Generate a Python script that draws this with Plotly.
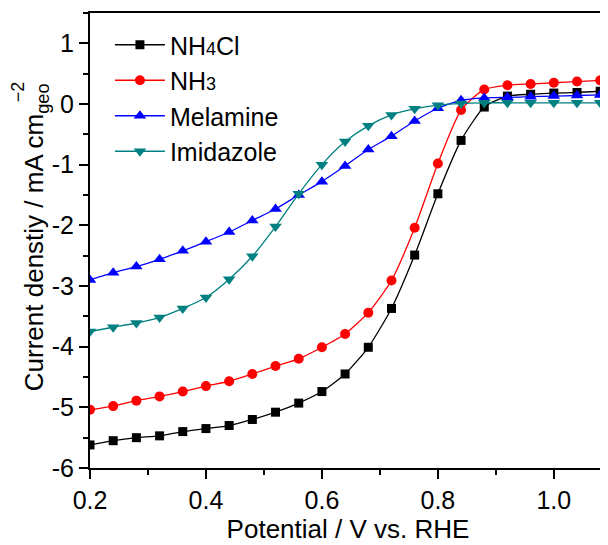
import plotly.graph_objects as go

# ---- data ----
potential = [0.20, 0.24, 0.28, 0.32, 0.36, 0.40, 0.44, 0.48, 0.52, 0.56, 0.60, 0.64,
             0.68, 0.72, 0.76, 0.80, 0.84, 0.88, 0.92, 0.96, 1.00, 1.04, 1.08]

nh4cl = [-5.62, -5.55, -5.50, -5.47, -5.40, -5.35, -5.30, -5.20, -5.08, -4.93, -4.74, -4.45,
         -4.01, -3.37, -2.49, -1.48, -0.60, -0.05, 0.13, 0.16, 0.18, 0.19, 0.21]

nh3 = [-5.04, -4.98, -4.89, -4.82, -4.74, -4.65, -4.57, -4.45, -4.32, -4.20, -4.01, -3.79,
       -3.44, -2.91, -2.04, -0.98, -0.10, 0.24, 0.31, 0.33, 0.35, 0.37, 0.39]

melamine = [-2.90, -2.78, -2.68, -2.56, -2.42, -2.27, -2.11, -1.92, -1.73, -1.50, -1.28, -1.02,
            -0.75, -0.53, -0.28, -0.07, 0.06, 0.10, 0.11, 0.12, 0.13, 0.14, 0.15]

imidazole = [-3.75, -3.68, -3.61, -3.52, -3.37, -3.19, -2.89, -2.51, -2.02, -1.48, -1.00, -0.62,
             -0.36, -0.18, -0.08, -0.02, 0.01, 0.02, 0.02, 0.02, 0.02, 0.02, 0.02]

series_names = ["NH<span style='font-size:18px'>4</span>Cl",
                "NH<span style='font-size:18px'>3</span>",
                "Melamine", "Imidazole"]
series_values = [nh4cl, nh3, melamine, imidazole]
series_colors = ["#000000", "#FF0000", "#0000FF", "#008080"]
series_symbols = ["square", "circle", "triangle-up", "triangle-down"]
series_sizes = [9, 10, 11, 11]

x_ticks = [0.2, 0.4, 0.6, 0.8, 1.0]
x_ticklabels = ["0.2", "0.4", "0.6", "0.8", "1.0"]
y_ticks = [1, 0, -1, -2, -3, -4, -5, -6]
y_ticklabels = ["1", "0", "-1", "-2", "-3", "-4", "-5", "-6"]

FONT = "Liberation Sans, Arial, sans-serif"

fig = go.Figure()
for name, vals, col, sym, sz in zip(series_names, series_values, series_colors,
                                    series_symbols, series_sizes):
    fig.add_trace(go.Scatter(
        x=potential, y=vals, name=name, mode="lines+markers",
        line=dict(color=col, width=1.3, shape="spline", smoothing=0.6),
        marker=dict(symbol=sym, size=sz, color=col, line=dict(width=0)),
    ))

# page body has an 8px margin: figure is placed at (8, 8) in the window
OFF = 8
W, H = 600, 537
ml, mr, mt, mb = 90 - OFF, 0, 13 - OFF, 77
pw = W - ml - mr
ph = H - mt - mb


def px_x(win_px):
    return (win_px - OFF - ml) / pw


def px_y(win_py):
    return (H - mb - (win_py - OFF)) / ph


fig.update_layout(
    width=W, height=H,
    margin=dict(l=ml, r=mr, t=mt, b=mb),
    paper_bgcolor="white", plot_bgcolor="white",
    font=dict(family=FONT, size=24, color="black"),
    showlegend=True,
    legend=dict(
        x=px_x(110), y=px_y(22), xanchor="left", yanchor="top",
        bgcolor="rgba(0,0,0,0)", borderwidth=0,
        font=dict(family=FONT, size=25, color="black"),
        itemwidth=50, tracegroupgap=0,
    ),
    xaxis=dict(
        range=[0.2, 1.09], showgrid=False, zeroline=False,
        showline=True, linecolor="black", linewidth=2, mirror=True,
        tickmode="array", tickvals=x_ticks, ticktext=x_ticklabels,
        ticks="outside", ticklen=9, tickwidth=1.5, tickcolor="black",
        minor=dict(dtick=0.1, tick0=0.2, ticks="outside", ticklen=5, tickwidth=1.5,
                   tickcolor="black", showgrid=False),
        tickfont=dict(family=FONT, size=25),
        title=dict(text="Potential / V vs. RHE", font=dict(family=FONT, size=26), standoff=4),
    ),
    yaxis=dict(
        range=[-6, 1.5], showgrid=False, zeroline=False,
        showline=True, linecolor="black", linewidth=2, mirror=True,
        tickmode="array", tickvals=y_ticks, ticktext=y_ticklabels,
        ticks="outside", ticklen=9, tickwidth=1.5, tickcolor="black",
        minor=dict(dtick=0.5, tick0=0, ticks="outside", ticklen=5, tickwidth=1.5,
                   tickcolor="black", showgrid=False),
        tickfont=dict(family=FONT, size=25),
    ),
    annotations=[
        dict(text="Current denstiy / mA cm<sub>geo</sub>", textangle=-90,
             xref="paper", yref="paper", x=px_x(35), y=px_y(393),
             xanchor="center", yanchor="bottom", showarrow=False,
             font=dict(family=FONT, size=26, color="black")),
        dict(text="\u22122", textangle=-90,
             xref="paper", yref="paper", x=px_x(18), y=px_y(92),
             xanchor="center", yanchor="middle", showarrow=False,
             font=dict(family=FONT, size=18, color="black")),
    ],
)

fig.write_html("out.html")
